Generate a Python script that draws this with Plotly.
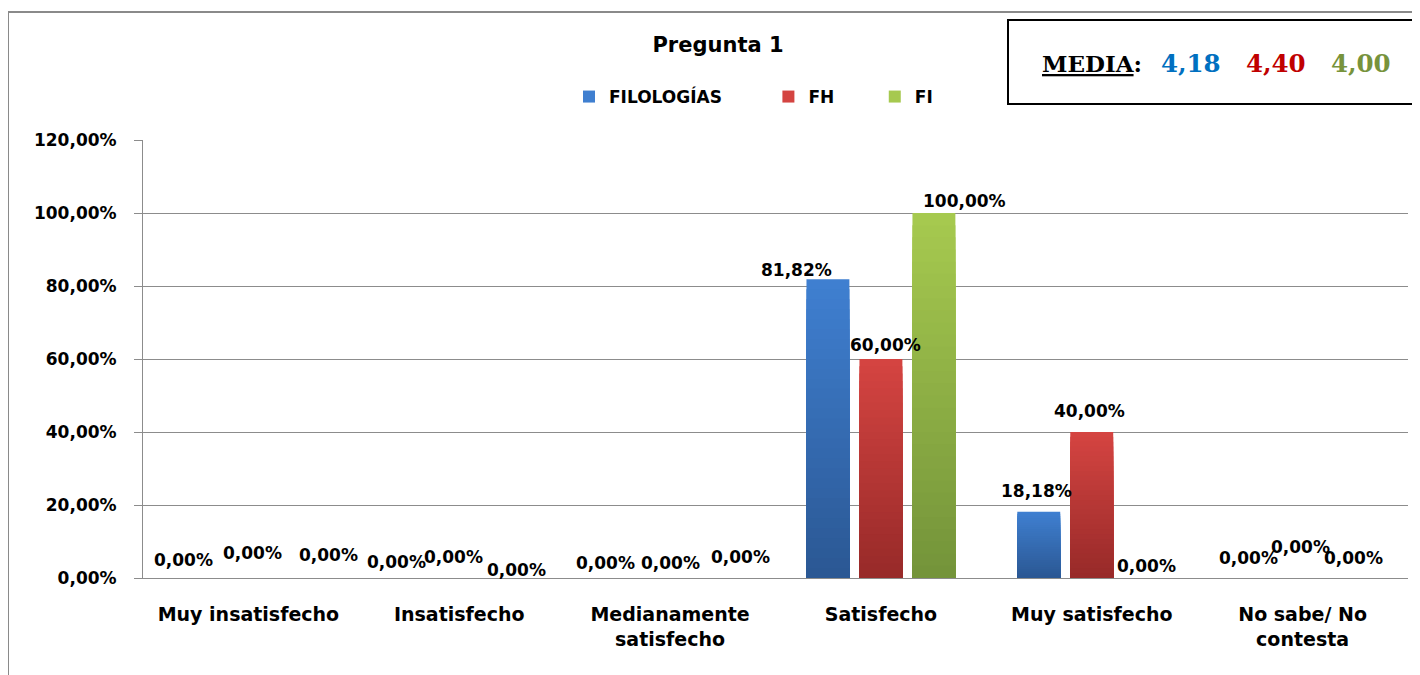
import plotly.graph_objects as go

# ---------------- data ----------------
categories = ["Muy insatisfecho", "Insatisfecho", "Medianamente<br>satisfecho",
              "Satisfecho", "Muy satisfecho", "No sabe/ No<br>contesta"]
series_names = ["FILOLOGÍAS", "FH", "FI"]
filologias = [0.00, 0.00, 0.00, 81.82, 18.18, 0.00]
fh = [0.00, 0.00, 0.00, 60.00, 40.00, 0.00]
fi = [0.00, 0.00, 0.00, 100.00, 0.00, 0.00]
y_tickvals = [0, 20, 40, 60, 80, 100, 120]
y_ticktext = ["0,00%", "20,00%", "40,00%", "60,00%", "80,00%", "100,00%", "120,00%"]
title_text = "Pregunta 1"
media_label = "MEDIA"
media_values = ["4,18", "4,40", "4,00"]

# ---------------- styles ----------------
SANS = "DejaVu Sans"
SERIF = "DejaVu Serif"
top_colors = ["#3f7fd0", "#d44441", "#a6c94f"]
bottom_colors = ["#2b5894", "#982a29", "#74943a"]
media_colors = ["#0070c0", "#c00000", "#77933c"]
legend_pad = ["\u00a0" * 7, "\u00a0" * 6, ""]
GRID = "#8c8c8c"
N_STEPS = 30
BARGAP = 0.246
# label nudges in pixels (dx right, dy up), per series, per category
label_dx = [[-12, -10, -12, -31, -2, -1],
            [4, -6, 0, 5, -2, -2],
            [27, 4, 17, 31, 2, -2]]
label_dy = [[18, 16, 15, 9, 21, 20],
            [25, 21, 15, 14, 21, 31],
            [23, 8, 21, 12, 12, 20]]

OX, OY = 8, 8                      # page body margin
W, H = 1420 - OX, 675 - OY
L, R, T, B = 143 - OX, 12, 140 - OY, 97
PW, PH = W - L - R, H - T - B
SLOT = PW / len(categories) * (1 - BARGAP) / 3


def px_x(p):
    return (p - OX - L) / PW


def px_y(p):
    return (H - B - (p - OY)) / PH


def mix(c1, c2, t):
    a = [int(c1[i:i + 2], 16) for i in (1, 3, 5)]
    b = [int(c2[i:i + 2], 16) for i in (1, 3, 5)]
    return "#" + "".join(f"{round(a[i] + (b[i] - a[i]) * t):02x}" for i in range(3))


def fmt(v):
    return f"{v:.2f}".replace(".", ",") + "%"


fig = go.Figure()
all_series = [filologias, fh, fi]
for s, (name, vals) in enumerate(zip(series_names, all_series)):
    for k in range(N_STEPS):
        frac = (N_STEPS - k) / N_STEPS
        color = mix(top_colors[s], bottom_colors[s], k / (N_STEPS - 1))
        fig.add_trace(go.Bar(
            x=categories,
            y=[v * frac for v in vals],
            name=name + legend_pad[s],
            legendgroup=name,
            showlegend=(k == 0),
            offsetgroup=str(s),
            marker=dict(color=color, line=dict(width=0)),
            hoverinfo="skip",
        ))
    for i, (cat, v) in enumerate(zip(categories, vals)):
        fig.add_annotation(
            x=cat, y=v, xref="x", yref="y",
            text=f"<b>{fmt(v)}</b>", showarrow=False,
            xanchor="center", yanchor="middle",
            xshift=(s - 1) * SLOT + label_dx[s][i], yshift=label_dy[s][i],
            font=dict(family=SANS, size=17, color="black"),
        )

fig.update_layout(
    width=W, height=H,
    margin=dict(l=L, r=R, t=T, b=B, autoexpand=False),
    paper_bgcolor="white", plot_bgcolor="white",
    barmode="group", bargap=BARGAP, bargroupgap=0.19,
    title=dict(text=f"<b>{title_text}</b>", x=(718 - OX) / W, xanchor="center",
               y=1 - (45 - OY) / H, yanchor="middle",
               font=dict(family=SANS, size=21, color="black")),
    legend=dict(orientation="h", x=px_x(569), xanchor="left",
                y=px_y(97), yanchor="middle",
                font=dict(family=SANS, size=17, color="black", weight="bold"),
                bgcolor="rgba(0,0,0,0)", itemclick=False, itemdoubleclick=False),
    font=dict(family=SANS, color="black"),
    showlegend=True,
)
fig.update_xaxes(
    showgrid=False, showline=True, linecolor=GRID, linewidth=1,
    ticks="", tickfont=dict(family=SANS, size=19, color="black", weight="bold"),
    ticklabelstandoff=19, fixedrange=True,
)
fig.update_yaxes(
    range=[0, 120], tickvals=y_tickvals, ticktext=y_ticktext,
    showgrid=True, gridcolor=GRID, gridwidth=1,
    showline=True, linecolor=GRID, linewidth=1,
    ticks="outside", ticklen=8, tickcolor=GRID,
    tickfont=dict(family=SANS, size=17, color="black", weight="bold"),
    ticklabelstandoff=14, zeroline=False, fixedrange=True,
)

# outer chart frame (left and top edges visible)
fig.add_shape(type="line", xref="paper", yref="paper",
              x0=px_x(8), x1=px_x(8), y0=px_y(700), y1=px_y(12),
              line=dict(color="#8a8a8a", width=2))
fig.add_shape(type="line", xref="paper", yref="paper",
              x0=px_x(8), x1=px_x(1440), y0=px_y(12), y1=px_y(12),
              line=dict(color="#8a8a8a", width=2))

# MEDIA box
fig.add_shape(type="rect", xref="paper", yref="paper",
              x0=px_x(1008), x1=px_x(1418), y0=px_y(104), y1=px_y(20),
              line=dict(color="black", width=2), fillcolor="white", layer="above")
fig.add_annotation(xref="paper", yref="paper", x=px_x(1040), y=px_y(63),
                   xanchor="left", yanchor="middle", showarrow=False,
                   text=f"<b><u>{media_label}</u>:</b>",
                   font=dict(family=SERIF, size=23, color="black"))
for i, (val, xs) in enumerate(zip(media_values, [1159, 1244, 1329])):
    fig.add_annotation(xref="paper", yref="paper", x=px_x(xs), y=px_y(63),
                       xanchor="left", yanchor="middle", showarrow=False,
                       text=f"<b>{val}</b>",
                       font=dict(family=SERIF, size=24.5, color=media_colors[i]))

fig.write_html("out.html", config={"displayModeBar": False})
